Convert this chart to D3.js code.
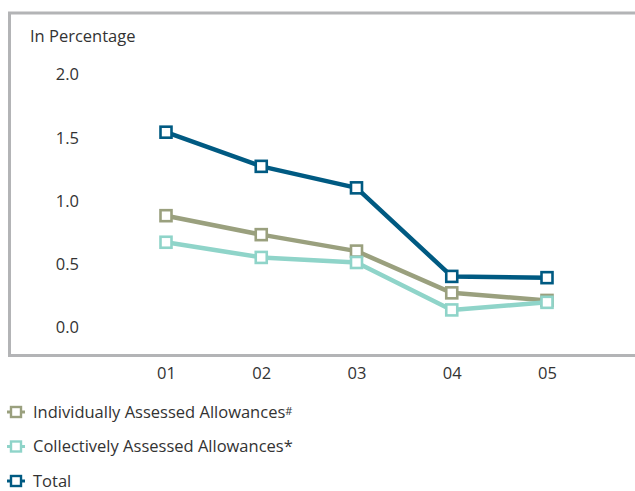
<!DOCTYPE html>
<html>
<head>
<meta charset="utf-8">
<script src="https://cdn.jsdelivr.net/npm/d3@7"></script>
<style>
  html, body { margin: 0; padding: 0; background: #fff; }
  #chart { width: 635px; height: 491px; }
  text { font-family: "Open Sans", "Noto Sans", sans-serif; fill: #333; }
</style>
</head>
<body>
<div id="chart"></div>
<script>
// categories and series
const periods = ["01", "02", "03", "04", "05"];
const yTicks = [0, 0.5, 1.0, 1.5, 2.0];
const individual = [0.88, 0.73, 0.60, 0.27, 0.21];
const collective = [0.67, 0.55, 0.51, 0.135, 0.195];
const total = [1.54, 1.27, 1.10, 0.40, 0.39];

const seriesNames = ["Individually Assessed Allowances", "Collectively Assessed Allowances", "Total"];
const seriesMarks = ["#", "*", ""];
const seriesColors = ["#9aa07e", "#8fd4c9", "#005a82"];

(function () {
  const width = 635, height = 491;
  const svg = d3.select("#chart").append("svg")
    .attr("width", width)
    .attr("height", height);

  // gray frame (open on the right)
  const frame = { left: 9.5, top: 13, bottom: 355.5 };
  svg.append("path")
    .attr("d", `M${width + 5},${frame.top} H${frame.left} V${frame.bottom} H${width + 5}`)
    .attr("fill", "none")
    .attr("stroke", "#b3b4b6")
    .attr("stroke-width", 3);

  svg.append("text")
    .attr("x", 30)
    .attr("y", 42)
    .style("font-size", "16.5px")
    .text("In Percentage");

  const x = d3.scalePoint()
    .domain(periods)
    .range([166, 547]);

  const y = d3.scaleLinear()
    .domain([0, 2])
    .range([327, 74]);

  // y tick labels
  const yAxis = svg.append("g")
    .attr("transform", "translate(79,0)")
    .call(d3.axisLeft(y).tickValues(yTicks).tickFormat(d3.format(".1f")).tickSize(0).tickPadding(0));
  yAxis.select(".domain").remove();
  yAxis.selectAll("text")
    .style("font-size", "16.5px")
    .attr("fill", "#333")
    .attr("dy", "0.36em");

  // x tick labels
  const xAxis = svg.append("g")
    .attr("transform", "translate(0,373)")
    .call(d3.axisBottom(x).tickSize(0).tickPadding(0));
  xAxis.select(".domain").remove();
  xAxis.selectAll("text")
    .style("font-size", "16.5px")
    .attr("fill", "#333")
    .attr("dy", "0.36em");

  const series = [individual, collective, total].map((values, i) => ({
    name: seriesNames[i],
    color: seriesColors[i],
    values: values.map((v, j) => ({ period: periods[j], value: v }))
  }));

  const line = d3.line()
    .x(d => x(d.period))
    .y(d => y(d.value));

  const groups = svg.selectAll("g.series")
    .data(series)
    .enter()
    .append("g")
    .attr("class", "series");

  groups.append("path")
    .attr("fill", "none")
    .attr("stroke", d => d.color)
    .attr("stroke-width", 4.5)
    .attr("stroke-linejoin", "round")
    .attr("d", d => line(d.values));

  const ms = 11;
  groups.selectAll("rect")
    .data(d => d.values.map(v => ({ ...v, color: d.color })))
    .enter()
    .append("rect")
    .attr("x", d => x(d.period) - ms / 2)
    .attr("y", d => y(d.value) - ms / 2)
    .attr("width", ms)
    .attr("height", ms)
    .attr("fill", "#fff")
    .attr("stroke", d => d.color)
    .attr("stroke-width", 2.6);

  // legend
  const legend = svg.append("g");
  const rows = legend.selectAll("g")
    .data(series)
    .enter()
    .append("g")
    .attr("transform", (_, i) => `translate(0, ${412 + i * 34.5})`);

  rows.append("line")
    .attr("x1", 7).attr("x2", 25)
    .attr("y1", 0).attr("y2", 0)
    .attr("stroke", d => d.color)
    .attr("stroke-width", 3);

  rows.append("rect")
    .attr("x", 11).attr("y", -5)
    .attr("width", 10).attr("height", 10)
    .attr("fill", "#fff")
    .attr("stroke", d => d.color)
    .attr("stroke-width", 2.4);

  const labels = rows.append("text")
    .attr("x", 33)
    .attr("y", 0)
    .attr("dy", "0.36em")
    .style("font-size", "16.5px");
  labels.append("tspan").text(d => d.name);
  labels.append("tspan")
    .attr("dy", (d, i) => seriesMarks[i] === "#" ? "-0.3em" : "0")
    .style("font-size", (d, i) => seriesMarks[i] === "#" ? "11px" : "16.5px")
    .text((d, i) => seriesMarks[i]);
})();
</script>
</body>
</html>
